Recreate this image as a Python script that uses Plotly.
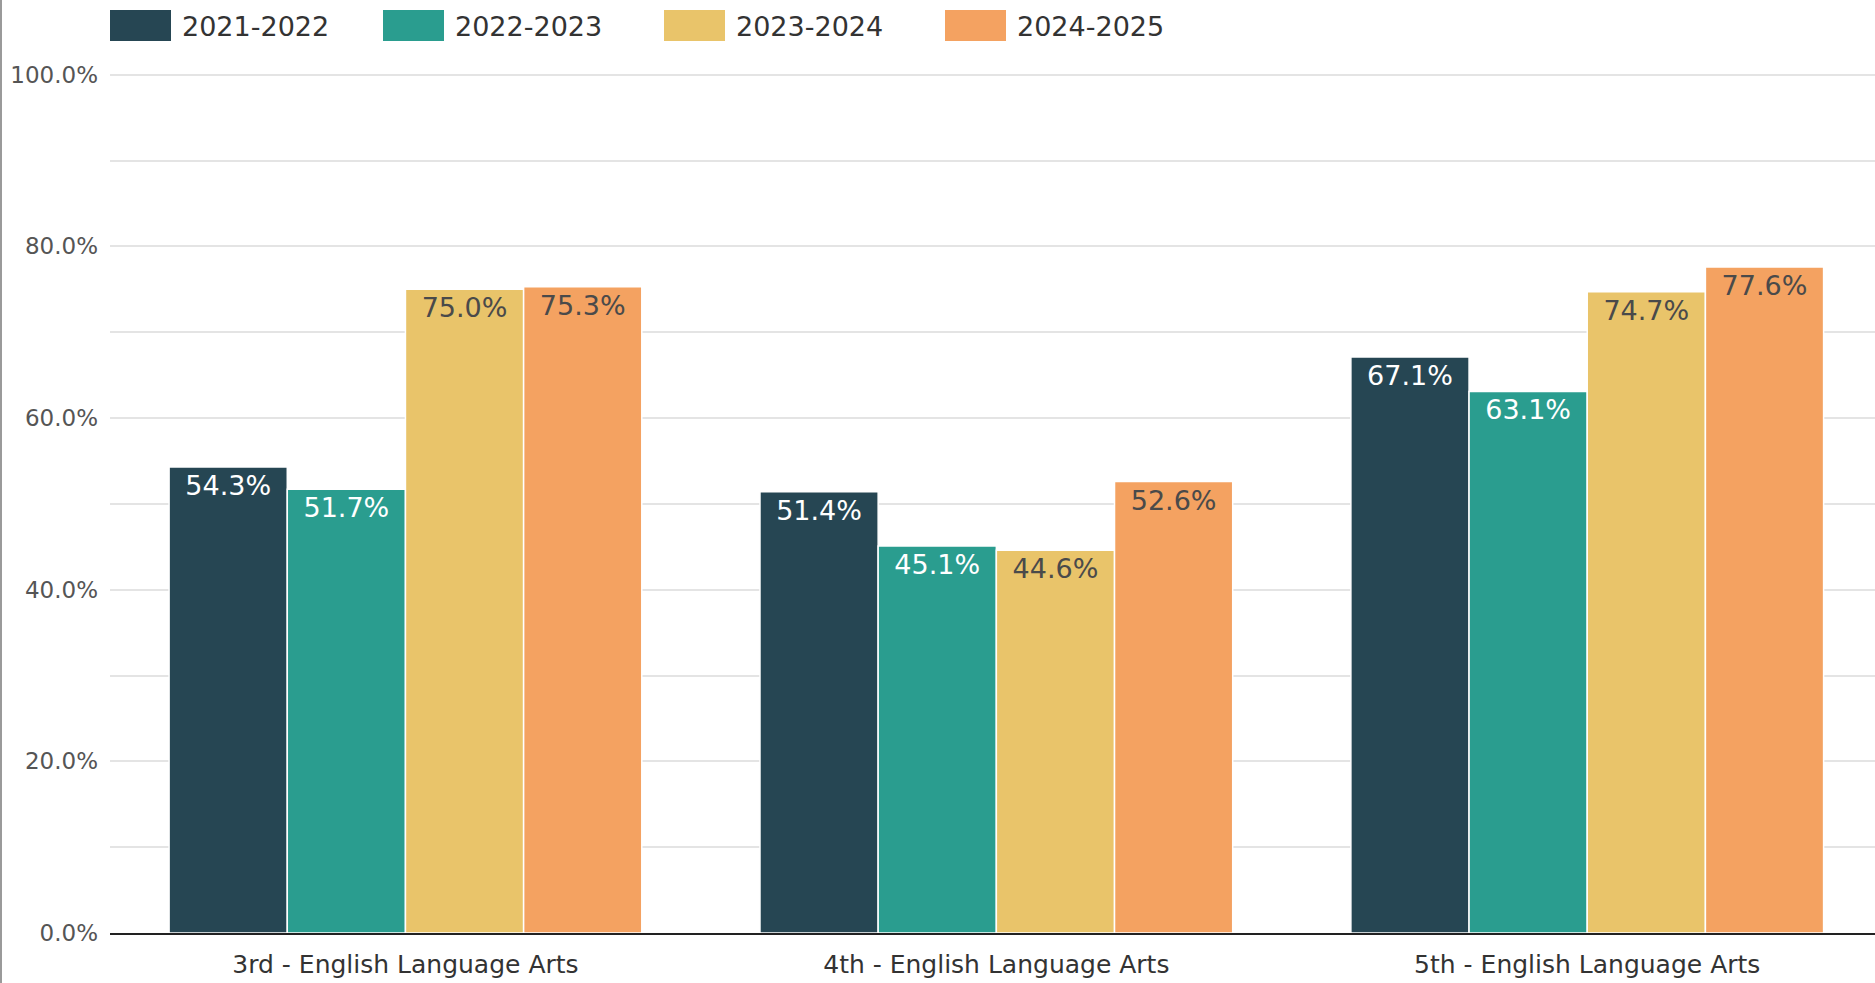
import plotly.graph_objects as go

# ── data ──────────────────────────────────────────────────────────────────────
GRADES = ["3rd - English Language Arts", "4th - English Language Arts", "5th - English Language Arts"]
YEARS = ["2021-2022", "2022-2023", "2023-2024", "2024-2025"]
Y_2122 = [0.543, 0.514, 0.671]
Y_2223 = [0.517, 0.451, 0.631]
Y_2324 = [0.750, 0.446, 0.747]
Y_2425 = [0.753, 0.526, 0.776]

COLORS = ["#264653", "#2a9d8f", "#e9c46a", "#f4a261"]
TEXT_COLORS = ["#ffffff", "#ffffff", "#4a4a4a", "#4a4a4a"]
FONT = "DejaVu Sans, Arial, sans-serif"

W, H = 1875, 983
L, R, T, B = 110, 0, 73, 50
PW = W - L - R
PH = H - T - B

fig = go.Figure()
for name, vals, col, tcol in zip(YEARS, [Y_2122, Y_2223, Y_2324, Y_2425], COLORS, TEXT_COLORS):
    fig.add_trace(go.Bar(
        x=GRADES, y=vals, name=name,
        marker=dict(color=col, line=dict(color="#ffffff", width=1.5)),
        text=[f"{v*100:.1f}%" for v in vals],
        textposition="inside", insidetextanchor="end",
        textfont=dict(family=FONT, size=27, color=tcol),
        showlegend=False,
    ))

# custom legend with wide swatches, like the original
def px_x(p):
    return (p - L) / PW

def px_y(p):
    return 1 - (p - T) / PH

legend_x = [110, 383, 664, 945]
for name, col, x0 in zip(YEARS, COLORS, legend_x):
    fig.add_shape(type="rect", xref="paper", yref="paper",
                  x0=px_x(x0), x1=px_x(x0 + 61), y0=px_y(41), y1=px_y(10),
                  fillcolor=col, line=dict(width=0))
    fig.add_annotation(xref="paper", yref="paper", x=px_x(x0 + 70), y=px_y(26),
                       text=name, showarrow=False, xanchor="left", yanchor="middle",
                       font=dict(family=FONT, size=27, color="#333333"))

# grey frame edge on the left
fig.add_shape(type="line", xref="paper", yref="paper",
              x0=px_x(1), x1=px_x(1), y0=px_y(0), y1=px_y(H),
              line=dict(color="#9a9a9a", width=2))

fig.update_layout(
    width=W, height=H,
    barmode="group", bargap=0.2, bargroupgap=0.0,
    plot_bgcolor="#ffffff", paper_bgcolor="#ffffff",
    margin=dict(l=L, r=R, t=T, b=B),
    font=dict(family=FONT, size=22, color="#444444"),
    uniformtext=dict(minsize=27, mode="show"),
)
fig.update_yaxes(range=[0, 1.002], tickvals=[0, 0.2, 0.4, 0.6, 0.8, 1.0], tickformat=".1%",
                 showgrid=True, gridcolor="#e4e4e4", gridwidth=1.5,
                 minor=dict(tickvals=[0.1, 0.3, 0.5, 0.7, 0.9], showgrid=True,
                            gridcolor="#e4e4e4", gridwidth=1.5),
                 zeroline=False, ticks="", ticklabelstandoff=11,
                 tickfont=dict(family=FONT, size=23, color="#555555"))
fig.update_xaxes(showline=True, linecolor="#222222", linewidth=2,
                 ticks="", range=[-0.5, 2.487], ticklabelstandoff=8,
                 tickfont=dict(family=FONT, size=25, color="#333333"))

fig.write_html("out.html", config={"displayModeBar": False},
               post_script="document.body.style.margin='0px';")
